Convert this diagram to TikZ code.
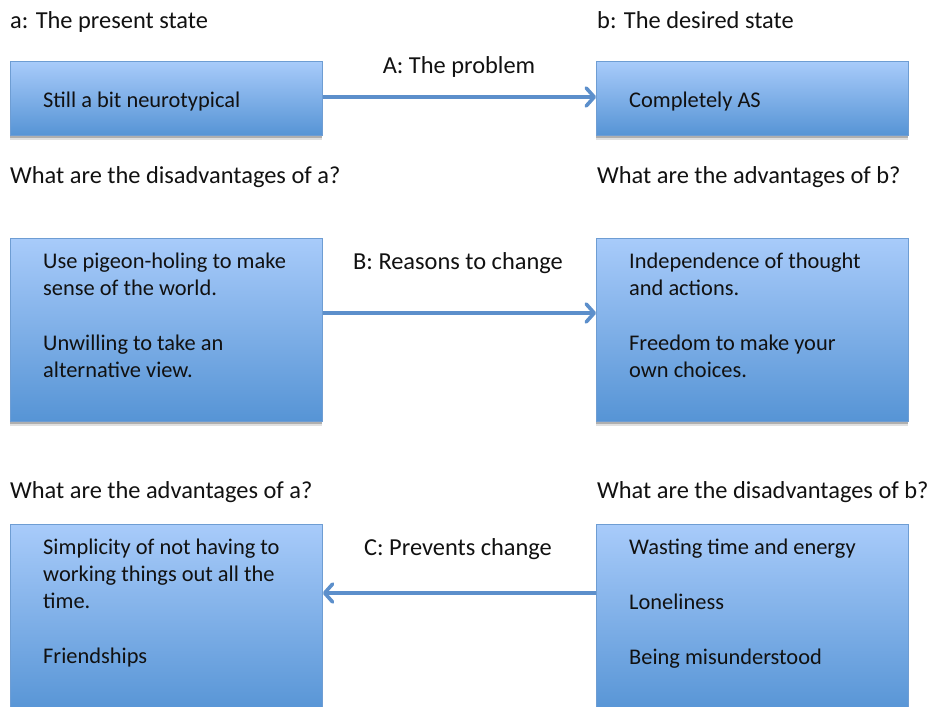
\documentclass[tikz,border=0pt]{standalone}
\usepackage{fontspec}
\setmainfont{Carlito}
\usetikzlibrary{arrows.meta,shadows,positioning}
\definecolor{boxtop}{HTML}{A8CBFA}
\definecolor{boxbot}{HTML}{5694D5}
\definecolor{boxline}{HTML}{6E9DD3}
\definecolor{arrowc}{HTML}{5C8FCB}
\definecolor{txt}{HTML}{111111}
% a strut of fixed height so that every text block's top lies a known distance above its first baseline
\newcommand{\topstrut}{\rule{0pt}{16pt}}
\tikzset{
  statebox/.style={draw=boxline, line width=0.8pt, top color=boxtop, bottom color=boxbot,
    rectangle, inner sep=0pt, minimum width=312pt,
    general shadow={shadow xshift=0pt, shadow yshift=-5pt, opacity=0.12, fill=black},
    general shadow={shadow xshift=0pt, shadow yshift=-3pt, opacity=0.22, fill=black}},
  boxtext/.style={anchor=north west, align=left, inner sep=0pt, text=txt,
    font=\fontsize{22.4}{27}\selectfont},
  caption/.style={anchor=base west, inner sep=0pt, text=txt, font=\fontsize{24.4}{28}\selectfont},
  linklabel/.style={anchor=base, inner sep=0pt, text=txt, font=\fontsize{24.4}{28}\selectfont},
  link/.style={draw=arrowc, line width=3.2pt,
    -{Straight Barb[length=8pt,width=18pt,line width=3.6pt,round]}}
}
\begin{document}
\begin{tikzpicture}[x=1pt,y=-1pt]
\useasboundingbox (0,0) rectangle (932,707);
\begin{scope}
\clip (0,0) rectangle (932,707);

% top row
\node[statebox, minimum height=74pt, anchor=north west] (a1) at (10,61) {};
\node[statebox, minimum height=74pt, anchor=north west] (b1) at (596,61) {};
% middle row
\node[statebox, minimum height=183pt, anchor=north west] (a2) at (10,238) {};
\node[statebox, minimum height=183pt, anchor=north west] (b2) at (596,238) {};
% bottom row (runs off the lower edge)
\node[statebox, minimum height=190pt, anchor=north west] (a3) at (10,524) {};
\node[statebox, minimum height=190pt, anchor=north west] (b3) at (596,524) {};

% box contents: first baseline sits 16pt below the given top
\node[boxtext] (t1) at (43,91) {\topstrut Still a bit neurotypical};
\node[boxtext] (t2) at (629,91) {\topstrut Completely AS};
\node[boxtext] (t3) at (43,252) {\topstrut Use pigeon-holing to make\\sense of the world.\\[1pt]\\Unwilling to take an\\alternative view.};
\node[boxtext] (t4) at (629,252) {\topstrut Independence of thought\\and actions.\\[1pt]\\Freedom to make your\\own choices.};
\node[boxtext] (t5) at (43,538) {\topstrut Simplicity of not having to\\working things out all the\\time.\\[1pt]\\Friendships};
\node[boxtext] (t6) at (629,538) {\topstrut Wasting time and energy\\[1pt]\\Loneliness\\[1pt]\\Being misunderstood};

% captions
\node[caption] (c1) at (10,28) {a: The present state};
\node[caption] (c2) at (597,28) {b: The desired state};
\node[caption] (c3) at (10,183) {What are the disadvantages of a?};
\node[caption] (c4) at (597,183) {What are the advantages of b?};
\node[caption] (c5) at (10,498) {What are the advantages of a?};
\node[caption] (c6) at (597,498) {What are the disadvantages of b?};

% connectors
\coordinate (pA) at (322,97);
\coordinate (pB) at (322,313);
\coordinate (pC) at (596,593);
\draw[link] (a1.east |- pA) -- (b1.west |- pA);
\draw[link] (a2.east |- pB) -- (b2.west |- pB);
\draw[link] (b3.west |- pC) -- (a3.east |- pC);

\node[linklabel] (lA) at (459,73) {A: The problem};
\node[linklabel] (lB) at (458,269) {B: Reasons to change};
\node[linklabel] (lC) at (458,555) {C: Prevents change};
\end{scope}
\end{tikzpicture}
\end{document}
